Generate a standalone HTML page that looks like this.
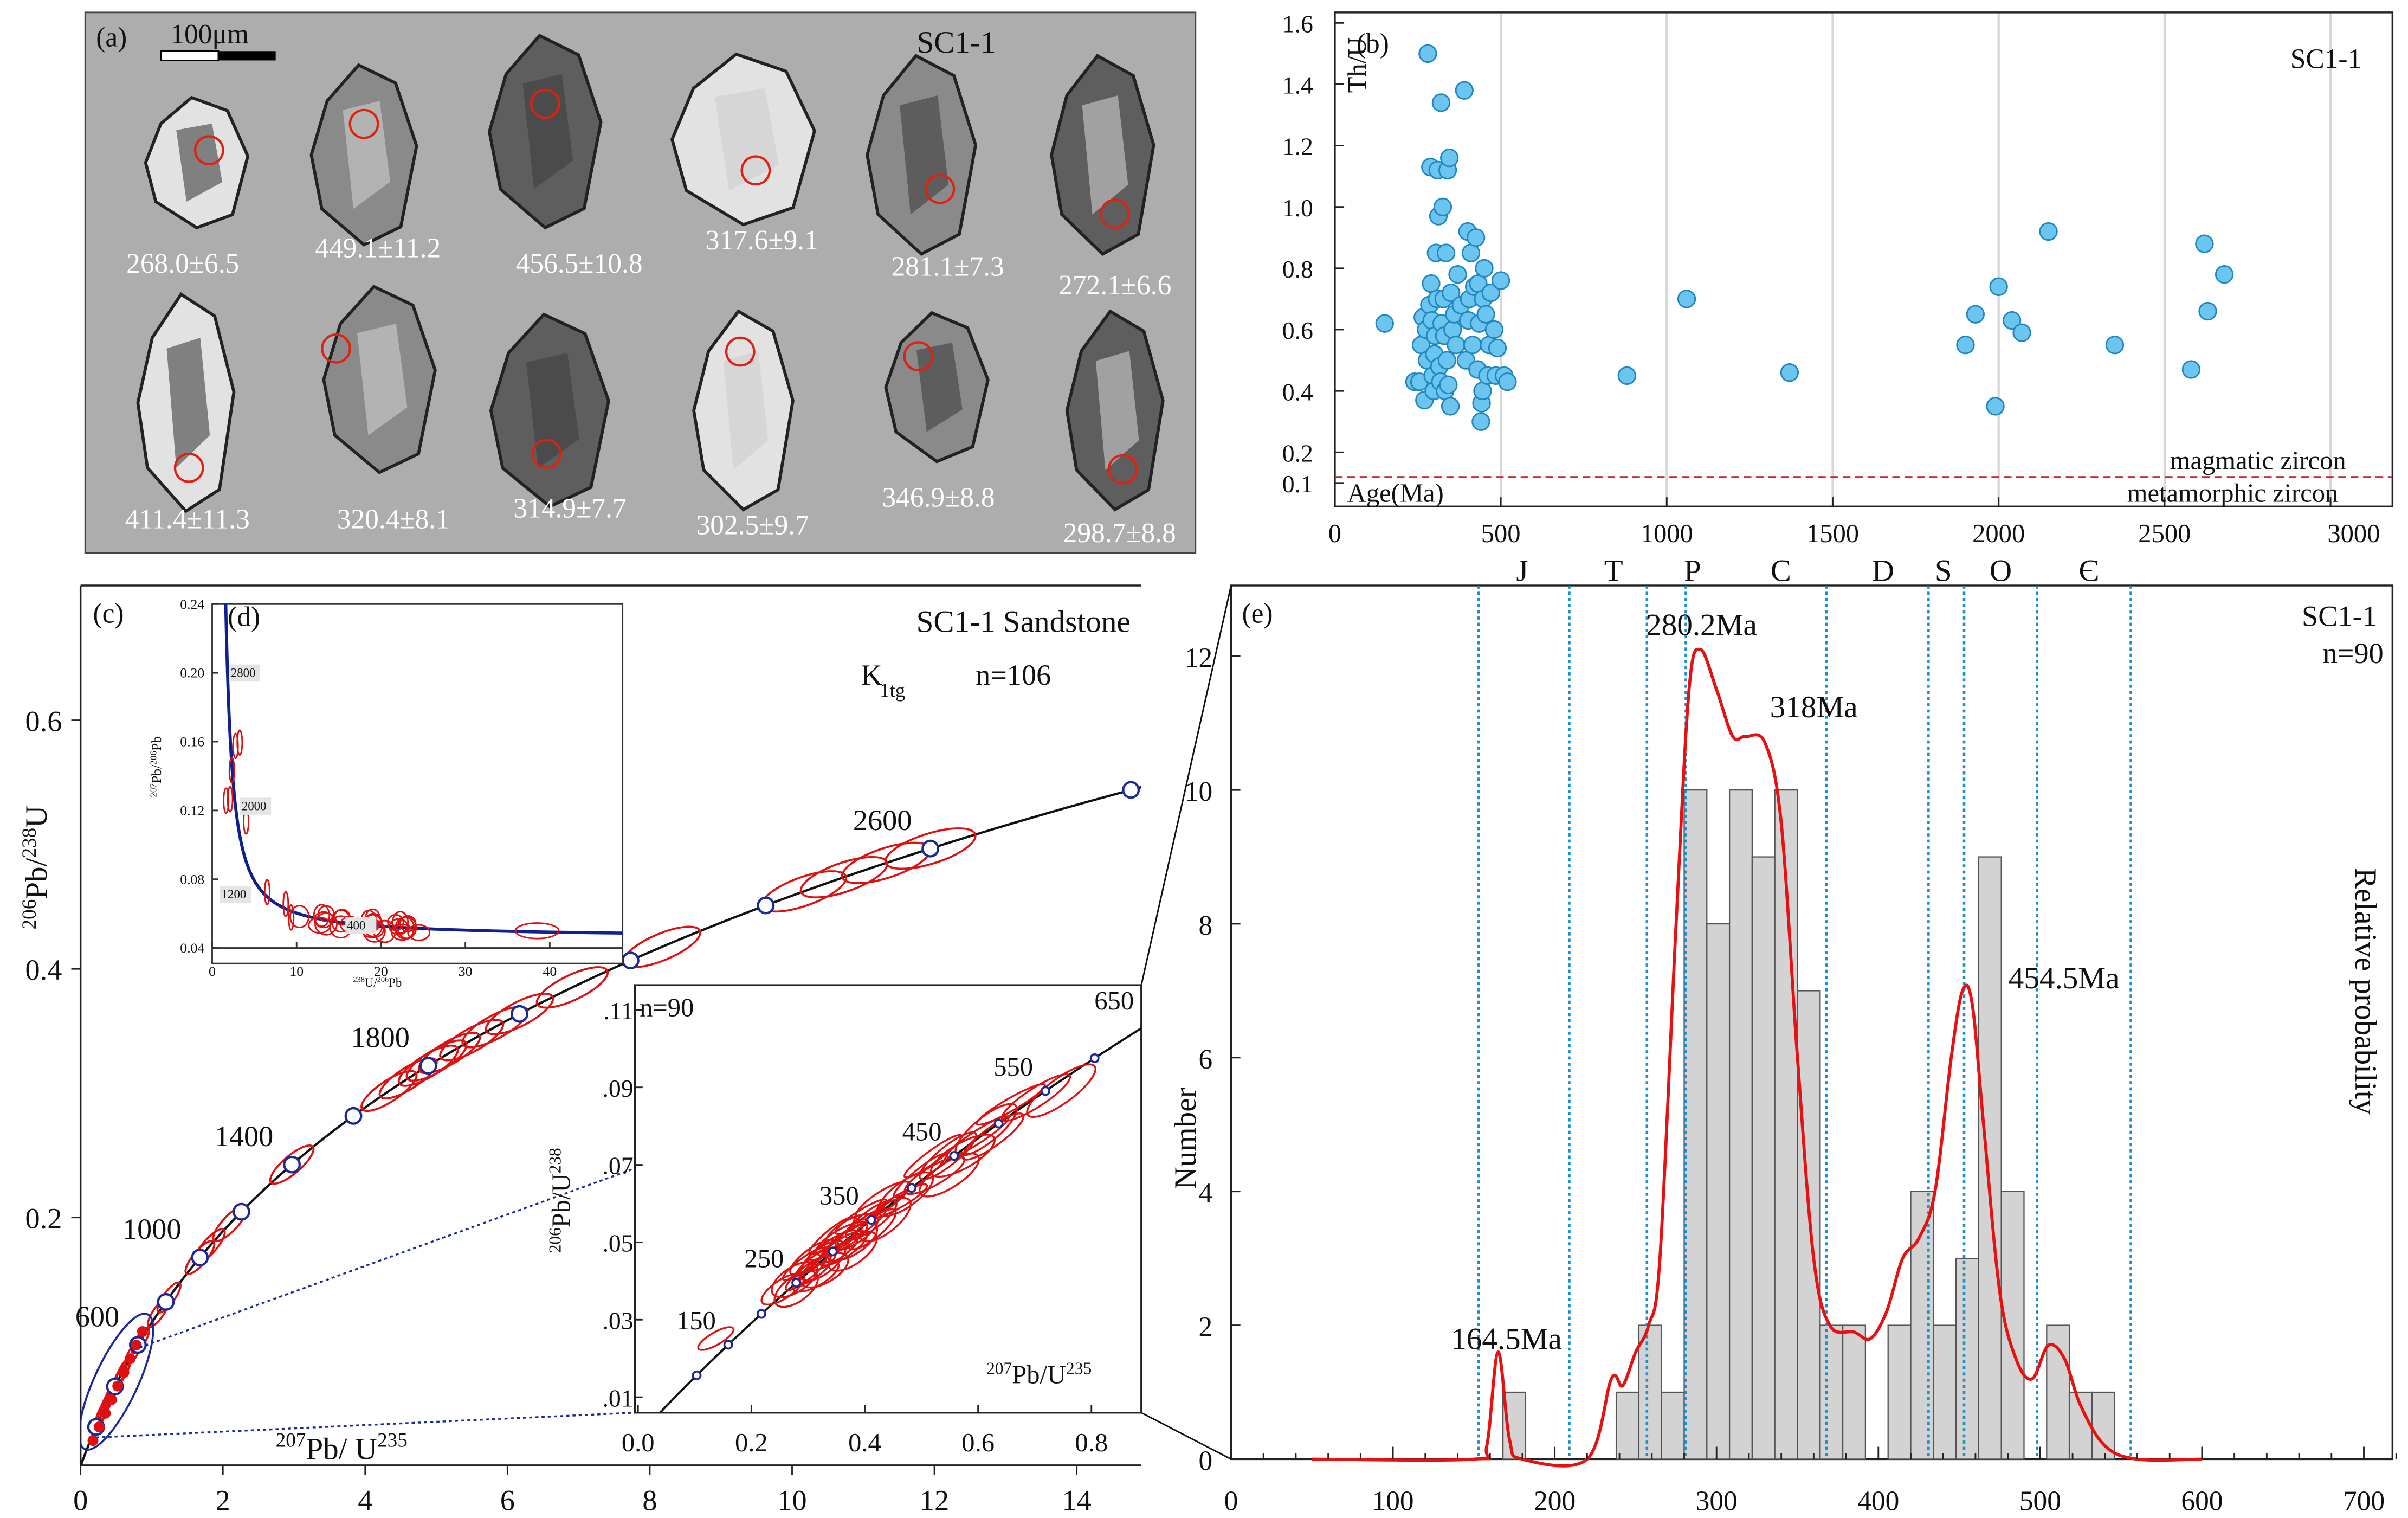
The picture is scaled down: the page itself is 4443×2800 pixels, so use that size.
<!DOCTYPE html>
<html><head><meta charset="utf-8">
<style>
html,body{margin:0;padding:0;background:#fff;}
svg{display:block;font-family:"Liberation Serif",serif;}
</style></head>
<body>
<svg id="fig" xmlns="http://www.w3.org/2000/svg" width="4443" height="2800" viewBox="0 0 1555 980">
<rect width="1555" height="980" fill="#fff"/>
</svg>
<script>
// ---------- DATA ----------
const scatterAges = [150,240,255,260,265,270,275,278,280,285,288,290,292,295,298,300,302,305,308,310,312,315,318,320,322,325,328,330,332,335,338,340,342,345,348,350,355,360,365,370,380,390,395,400,402,405,410,415,420,425,430,432,435,440,442,445,447,450,455,460,465,470,480,485,490,500,510,520,880,1060,1370,1900,1930,1990,2000,2040,2070,2150,2350,2580,2620,2630,2680];
const scatterThU = [0.62,0.43,0.43,0.55,0.64,0.37,0.6,0.5,1.5,0.68,1.13,0.75,0.63,0.45,0.4,0.52,0.58,0.85,0.7,1.12,0.97,0.48,0.43,1.34,0.62,1.0,0.7,0.58,0.4,0.85,0.5,1.12,0.42,1.16,0.35,0.72,0.6,0.65,0.55,0.78,0.68,1.38,0.5,0.92,0.63,0.7,0.85,0.55,0.74,0.9,0.47,0.75,0.62,0.3,0.36,0.4,0.7,0.8,0.65,0.45,0.55,0.72,0.6,0.45,0.54,0.76,0.45,0.43,0.45,0.7,0.46,0.55,0.65,0.35,0.74,0.63,0.59,0.92,0.55,0.47,0.88,0.66,0.78];
const bThTicks = [0.1,0.2,0.4,0.6,0.8,1.0,1.2,1.4,1.6];
const bAgeTicks = [0,500,1000,1500,2000,2500,3000];

const binStarts = [168,238,252,266,280,294,308,322,336,350,364,378,392,406,420,434,448,462,476,490,504,518,532];
const binCounts = [1,1,2,1,10,8,10,9,10,7,2,2,0,2,4,2,3,9,4,0,2,1,1];
const binWidth = 14;
const probAges = [50,150,158,165,172,180,220,235,242,250,258,265,275,283,290,300,310,318,330,340,350,360,370,385,395,405,415,425,435,445,452,458,465,475,485,495,505,515,525,540,560,600];
const probVals = [0,0,0.2,1.6,0.3,0,0,1.2,1.1,1.6,2,3,8,11.5,12.1,11.5,10.8,10.8,10.7,9.5,6,3,2,1.9,1.8,2.2,3,3.3,4,6,7,6.8,5,2.5,1.5,1.2,1.7,1.5,0.8,0.2,0,0];
const periodBounds = [153,209,257,281,368,431,453,498,556];
const eAgeTicks = [0,100,200,300,400,500,600,700];
const eNumTicks = [0,2,4,6,8,10,12];

const concAges = [260,270,280,300,320,340,360,420,450,480,560,620,750,820,1000,1050,1150,1400,1700,1750,1800,1820,1850,1900,1950,2000,2100,2250,2450,2500,2550,2600];
const concMarkers = [200,400,600,800,1000,1200,1400,1600,1800,2000,2200,2400,2600,2800];
const concLabels = [600,1000,1400,1800,2200,2600];
const cXTicks = [0,2,4,6,8,10,12,14];
const cYTicks = [0.2,0.4,0.6];

const insetAges = [150,240,250,255,260,265,270,275,280,285,290,295,300,305,310,315,320,325,330,335,340,345,350,360,370,380,400,410,420,430,440,450,460,470,480,500,520,540,560];
const insetMarkers = [100,150,200,250,300,350,400,450,500,550,600,650,700];
const insetLabels = [150,250,350,450,550,650];
const iXTicks = [0.0,0.2,0.4,0.6,0.8];
const iYTicks = [0.01,0.03,0.05,0.07,0.09,0.11];

const twAges = [260,270,280,290,300,310,320,330,340,350,360,300,290,280,270,320,330,410,420,440,450,460,470,480,500,540,620,700,1000,1900,2000,2050,2300,2400,2450];
const dXTicks = [0,10,20,30,40];
const dYTicks = [0.04,0.08,0.12,0.16,0.20,0.24];

const grainLabels = ["268.0±6.5","449.1±11.2","456.5±10.8","317.6±9.1","281.1±7.3","272.1±6.6","411.4±11.3","320.4±8.1","314.9±7.7","302.5±9.7","346.9±8.8","298.7±8.8"];

// ---------- helpers ----------
const NS="http://www.w3.org/2000/svg";
const svg=document.getElementById('fig');
function mk(tag,attrs,parent){const e=document.createElementNS(NS,tag);for(const k in attrs)e.setAttribute(k,attrs[k]);(parent||svg).appendChild(e);return e;}
function tx(x,y,s,size,anchor,parent,extra){const e=mk('text',Object.assign({x:x,y:y,'font-size':size,'text-anchor':anchor||'start',fill:'#111'},extra||{}),parent);e.textContent=s;return e;}
const L238=1.55125e-10,L235=9.8485e-10;
const c206=t=>Math.exp(L238*t*1e6)-1, c207=t=>Math.exp(L235*t*1e6)-1;
function smoothPath(pts){let d='M'+pts[0][0]+','+pts[0][1];for(let i=0;i<pts.length-1;i++){const p0=pts[i-1]||pts[i],p1=pts[i],p2=pts[i+1],p3=pts[i+2]||p2;const c1x=p1[0]+(p2[0]-p0[0])/6,c1y=p1[1]+(p2[1]-p0[1])/6,c2x=p2[0]-(p3[0]-p1[0])/6,c2y=p2[1]-(p3[1]-p1[1])/6;d+=` C${c1x},${c1y} ${c2x},${c2y} ${p2[0]},${p2[1]}`;}return d;}

// ---------- Panel A ----------
const gA=mk('g',{});


mk('rect',{x:55,y:8,width:717,height:349,fill:'#adadad',stroke:'#444','stroke-width':1},gA);
tx(62,30,'(a)',18,'start',gA);
tx(592,34,'SC1-1',20,'start',gA);
mk('rect',{x:104,y:33,width:37,height:6,fill:'#fff',stroke:'#000','stroke-width':1},gA);
mk('rect',{x:141,y:33,width:37,height:6,fill:'#000'},gA);
tx(110,28,'100μm',18,'start',gA);
const gc=[[127,105],[235,100],[352,85],[480,90],[595,100],[712,100],[120,260],[245,245],[355,265],[480,265],[605,250],[720,265]];
const gl=[[118,176],[244,166],[374,176],[492,161],[612,178],[720,190],[121,341],[254,341],[368,334],[486,345],[606,327],[723,350]];
const sizes=[[33,42],[34,58],[36,62],[46,55],[35,64],[33,64],[31,70],[36,60],[38,62],[32,64],[33,48],[31,64]];
const circ=[[8,-8],[0,-20],[0,-18],[8,20],[12,22],[8,38],[2,42],[-28,-20],[-2,28],[-2,-38],[-12,-20],[5,38]];
gc.forEach((c,i)=>{
  const [w,h]=sizes[i];
  const pts=[[-w*0.7,-h*0.6],[-w*0.1,-h],[w*0.6,-h*0.8],[w,-h*0.1],[w*0.7,h*0.8],[0,h],[-w*0.8,h*0.6],[-w,0]].map(p=>(c[0]+p[0])+','+(c[1]+p[1])).join(' ');
  const g=mk('polygon',{points:pts,fill:i%3==0?'#e2e2e2':(i%3==1?'#8a8a8a':'#5e5e5e'),stroke:'#222','stroke-width':2},gA);
  
  
  mk('polygon',{points:[[-w*0.4,-h*0.5],[w*0.3,-h*0.6],[w*0.5,h*0.3],[-w*0.2,h*0.6]].map(p=>(c[0]+p[0])+','+(c[1]+p[1])).join(' '),fill:i%2?'#cfcfcf':'#3f3f3f',opacity:0.6},gA);
  mk('circle',{cx:c[0]+circ[i][0],cy:c[1]+circ[i][1],r:9,fill:'none',stroke:'#e02010','stroke-width':1.5},gA);
  const t=tx(gl[i][0],gl[i][1],grainLabels[i],18,'middle',gA,{fill:'#fff'});
  
  
});

// ---------- Panel B ----------
const gB=mk('g',{});


const bx=a=>862+a*(1505-862)/3000, by=v=>292-(v-0.2)*198;
bAgeTicks.slice(1).forEach(a=>mk('line',{x1:bx(a),x2:bx(a),y1:8,y2:327,stroke:'#d8d8d8','stroke-width':1.5},gB));
mk('rect',{x:862,y:8,width:683,height:319,fill:'none',stroke:'#222','stroke-width':1.2},gB);
mk('line',{x1:862,x2:1545,y1:308,y2:308,stroke:'#d02020','stroke-width':1.2,'stroke-dasharray':'5,3'},gB);
bThTicks.forEach(v=>{mk('line',{x1:862,x2:868,y1:by(v),y2:by(v),stroke:'#222'},gB);tx(848,by(v)+6,v.toFixed(1),16,'end',gB);});
bAgeTicks.forEach(a=>{mk('line',{x1:bx(a),x2:bx(a),y1:327,y2:321,stroke:'#222'},gB);tx(a==3000?1520:bx(a),350,String(a),17,'middle',gB);});
tx(876,34,'(b)',18,'start',gB);
tx(1525,44,'SC1-1',18,'end',gB);
tx(1515,303,'magmatic zircon',17,'end',gB);
tx(1510,324,'metamorphic zircon',17,'end',gB);
tx(870,324,'Age(Ma)',17,'start',gB);
tx(0,0,'Th/U',17,'middle',gB,{transform:'translate(882,42) rotate(-90)'});
scatterAges.forEach((a,i)=>{
  const p=mk('circle',{cx:bx(a),cy:by(scatterThU[i]),r:5.5,fill:'#6cc5ee',stroke:'#1f86c0','stroke-width':1},gB);
  
  
});

// ---------- Panel E ----------
const gE=mk('g',{});


const ex=a=>795+a*1.045, ey=v=>942-v*43.2;
mk('rect',{x:795,y:378,width:750,height:564,fill:'none',stroke:'#222','stroke-width':1.2},gE);
binStarts.forEach((s,i)=>{ if(!binCounts[i])return;
  const r=mk('rect',{x:ex(s),y:ey(binCounts[i]),width:binWidth*1.045,height:binCounts[i]*43.2,fill:'#d3d3d3',stroke:'#555','stroke-width':0.8},gE);
  
  
});
periodBounds.forEach(a=>mk('line',{x1:ex(a),x2:ex(a),y1:378,y2:942,stroke:'#1a8fd0','stroke-width':1.6,'stroke-dasharray':'2,2'},gE));
const pc=mk('path',{d:smoothPath(probAges.map((a,i)=>[ex(a),ey(probVals[i])])),fill:'none',stroke:'#e81010','stroke-width':2,'stroke-linejoin':'round'},gE);


eNumTicks.forEach(v=>{mk('line',{x1:795,x2:801,y1:ey(v),y2:ey(v),stroke:'#222'},gE);tx(783,ey(v)+7,String(v),18,'end',gE);});
for(let a=0;a<=720;a+=20){mk('line',{x1:ex(a),x2:ex(a),y1:942,y2:a%100==0?934:938,stroke:'#222'},gE);}
eAgeTicks.forEach(a=>tx(ex(a),975,String(a),18,'middle',gE));
tx(802,402,'(e)',18,'start',gE);
tx(1535,404,'SC1-1',19,'end',gE);tx(1500,428,'n=90',19,'start',gE);
tx(1063,410,'280.2Ma',20,'start',gE);tx(1143,463,'318Ma',20,'start',gE);
tx(1297,638,'454.5Ma',20,'start',gE);tx(937,871,'164.5Ma',20,'start',gE);
tx(0,0,'Number',20,'middle',gE,{transform:'translate(772,735) rotate(-90)'});
tx(0,0,'Relative probability',20,'middle',gE,{transform:'translate(1521,640) rotate(90)'});
[['J',983],['T',1042],['P',1093],['C',1150],['D',1216],['S',1255],['O',1292],['Є',1349]].forEach(p=>tx(p[1],375,p[0],20,'middle',gE));

// ---------- Panel C ----------
const gC=mk('g',{});


const cx=x=>52+x*45.95, cy=y=>946.5-y*802.5;
mk('clipPath',{id:'cclip'}).appendChild(document.createElementNS(NS,'rect'));
const ccr=svg.querySelector('#cclip rect');ccr.setAttribute('x',52);ccr.setAttribute('y',378);ccr.setAttribute('width',685);ccr.setAttribute('height',568);
mk('line',{x1:52,x2:737,y1:378,y2:378,stroke:'#222','stroke-width':1.2},gC);
mk('line',{x1:52,x2:52,y1:378,y2:946,stroke:'#222','stroke-width':1.2},gC);
mk('line',{x1:52,x2:737,y1:946,y2:946,stroke:'#222','stroke-width':1.2},gC);
const cg=mk('g',{'clip-path':'url(#cclip)'},gC);
let cp=[];for(let t=0;t<=2900;t+=20)cp.push(cx(c207(t))+','+cy(c206(t)));
mk('polyline',{points:cp.join(' '),fill:'none',stroke:'#111','stroke-width':1.5},cg);
concAges.forEach(t=>{
  const x=cx(c207(t)),y=cy(c206(t));
  const x2=cx(c207(t+10)),y2=cy(c206(t+10));
  const ang=Math.atan2(y2-y,x2-x)*180/Math.PI;
  const rx=3+t/95, ry=Math.max(2.5,rx*0.32);
  const e=mk('ellipse',{cx:x,cy:y,rx:rx,ry:ry,transform:`rotate(${ang} ${x} ${y})`,fill:'none',stroke:'#e01010','stroke-width':1.3},cg);
  
  
});
concMarkers.forEach(t=>mk('circle',{cx:cx(c207(t)),cy:cy(c206(t)),r:5,fill:'#fff',stroke:'#1a2a9a','stroke-width':1.5},cg));
mk('ellipse',{cx:75,cy:892,rx:14,ry:48,transform:'rotate(25 75 892)',fill:'none',stroke:'#1a2a9a','stroke-width':1.3},cg);
for(let x=60;x<95;x+=4)mk('circle',{cx:x,cy:930-(x-60)*2.2,r:3.5,fill:'#e01010'},cg);
mk('line',{x1:90,y1:870,x2:737,y2:636,stroke:'#1a2a9a','stroke-width':1.2,'stroke-dasharray':'2,2'},gC);
mk('line',{x1:62,y1:928,x2:410,y2:912,stroke:'#1a2a9a','stroke-width':1.2,'stroke-dasharray':'2,2'},gC);
concLabels.forEach(t=>{const x=cx(c207(t)),y=cy(c206(t));tx(x-12,y-12,String(t),19,'end',gC);});
cYTicks.forEach(v=>{mk('line',{x1:46,x2:52,y1:cy(v),y2:cy(v),stroke:'#222'},gC);tx(40,cy(v)+7,v.toFixed(1),19,'end',gC);});
cXTicks.forEach(v=>{mk('line',{x1:cx(v),x2:cx(v),y1:946,y2:952,stroke:'#222'},gC);tx(cx(v),975,String(v),19,'middle',gC);});
tx(60,402,'(c)',18,'start',gC);
tx(730,408,'SC1-1 Sandstone',20,'end',gC);
tx(556,442,'K',19,'start',gC);
tx(568,450,'1tg',13,'start',gC);tx(630,442,'n=106',19,'start',gC);
const yl=mk('text',{transform:'translate(30,560) rotate(-90)','font-size':20,'text-anchor':'middle',fill:'#111'},gC);
yl.innerHTML='<tspan font-size="13" dy="-7">206</tspan><tspan dy="7">Pb/</tspan><tspan font-size="13" dy="-7">238</tspan><tspan dy="7">U</tspan>';
const xl=mk('text',{x:178,y:942,'font-size':20,fill:'#111'},gC);
xl.innerHTML='<tspan font-size="13" dy="-8">207</tspan><tspan dy="8">Pb/ U</tspan><tspan font-size="13" dy="-8">235</tspan>';
mk('line',{x1:737,y1:636,x2:795,y2:378,stroke:'#111','stroke-width':1},svg);
mk('line',{x1:737,y1:912,x2:795,y2:942,stroke:'#111','stroke-width':1},svg);

// ---------- Inset (lower) ----------
const gI=mk('g',{});


const ix=x=>412+x*366, iy=y=>902-(y-0.01)*2500;
mk('rect',{x:410,y:636,width:327,height:276,fill:'#fff',stroke:'#222','stroke-width':1.2},gI);
mk('clipPath',{id:'iclip'}).appendChild(document.createElementNS(NS,'rect'));
const icr=svg.querySelector('#iclip rect');icr.setAttribute('x',410);icr.setAttribute('y',636);icr.setAttribute('width',327);icr.setAttribute('height',276);
const ig=mk('g',{'clip-path':'url(#iclip)'},gI);
let ip=[];for(let t=0;t<=760;t+=10)ip.push(ix(c207(t))+','+iy(c206(t)));
mk('polyline',{points:ip.join(' '),fill:'none',stroke:'#111','stroke-width':1.4},ig);
insetAges.forEach((t,i)=>{
  const x=ix(c207(t))+((i%5)-2)*4,y=iy(c206(t))+((i%3)-1)*4;
  const ang=-30-(i%4)*3, rx=8+t/30, ry=4+(i%3)*2;
  const e=mk('ellipse',{cx:x,cy:y,rx:rx,ry:ry,transform:`rotate(${ang} ${x} ${y})`,fill:'none',stroke:'#e01010','stroke-width':1.2},ig);
  
  
});
insetMarkers.forEach(t=>mk('circle',{cx:ix(c207(t)),cy:iy(c206(t)),r:2.5,fill:'#fff',stroke:'#1a2a9a','stroke-width':1.3},ig));
insetLabels.forEach(t=>tx(ix(c207(t))-8,iy(c206(t))-10,String(t),17,'end',gI));
iXTicks.forEach(v=>{mk('line',{x1:ix(v),x2:ix(v),y1:912,y2:907,stroke:'#222'},gI);tx(ix(v),937,v.toFixed(1),17,'middle',gI);});
iYTicks.forEach(v=>{mk('line',{x1:410,x2:415,y1:iy(v),y2:iy(v),stroke:'#222'},gI);tx(409,iy(v)+6,v.toFixed(2).replace(/^0/,''),16,'end',gI);});
tx(413,656,'n=90',17,'start',gI);
const il=mk('text',{x:637,y:893,'font-size':17,fill:'#111'},gI);
il.innerHTML='<tspan font-size="11" dy="-6">207</tspan><tspan dy="6">Pb/U</tspan><tspan font-size="11" dy="-6">235</tspan>';
const iyl=mk('text',{transform:'translate(368,775) rotate(-90)','font-size':17,'text-anchor':'middle',fill:'#111'},gI);
iyl.innerHTML='<tspan font-size="11" dy="-6">206</tspan><tspan dy="6">Pb/U</tspan><tspan font-size="11" dy="-6">238</tspan>';

// ---------- Inset D (Tera-Wasserburg) ----------
const gD=mk('g',{});


const dx=x=>137+x*5.45, dy=y=>612-(y-0.04)*1110;
mk('rect',{x:137,y:390,width:265,height:232,fill:'#fff',stroke:'#333','stroke-width':1},gD);
mk('clipPath',{id:'dclip'}).appendChild(document.createElementNS(NS,'rect'));
const dcr=svg.querySelector('#dclip rect');dcr.setAttribute('x',137);dcr.setAttribute('y',390);dcr.setAttribute('width',265);dcr.setAttribute('height',222);
const dg=mk('g',{'clip-path':'url(#dclip)'},gD);
const twx=t=>1/c206(t), twy=t=>c207(t)/c206(t)/137.88;
let dp=[];for(let t=3300;t>=130;t-=(t>600?40:10))dp.push(dx(twx(t))+','+dy(twy(t)));
mk('polyline',{points:dp.join(' '),fill:'none',stroke:'#102090','stroke-width':2},dg);
mk('line',{x1:dx(twx(130)),y1:dy(twy(130)),x2:402,y2:dy(0.0505),stroke:'#102090','stroke-width':2},dg);
twAges.forEach((t,i)=>{
  const x=dx(twx(t))+((i%5)-2)*3,y=dy(twy(t))+((i%3)-1)*3;
  const old=t>600;
  const e=mk('ellipse',{cx:x,cy:y,rx:old?1.6:5+(i%3),ry:old?8:5+(i%2)*2,fill:'none',stroke:'#e01010','stroke-width':1},dg);
  
  
});
mk('ellipse',{cx:dx(38.5),cy:dy(0.05),rx:14,ry:5,fill:'none',stroke:'#e01010','stroke-width':1},dg);
dXTicks.forEach(v=>{mk('line',{x1:dx(v),x2:dx(v),y1:612,y2:608,stroke:'#333'},gD);tx(dx(v),630,String(v),9,'middle',gD);});
dYTicks.forEach(v=>{mk('line',{x1:137,x2:141,y1:dy(v),y2:dy(v),stroke:'#333'},gD);tx(132,dy(v)+3,v.toFixed(2),9,'end',gD);});
mk('line',{x1:137,x2:402,y1:612,y2:612,stroke:'#333'},gD);
tx(147,404,'(d)',18,'start',gD);
[['2800',149,437],['2000',156,523],['1200',143,580],['400',224,600]].forEach(p=>{mk('rect',{x:p[1]-1,y:p[2]-8,width:20,height:11,fill:'#e4e4e4'},gD);tx(p[1],p[2],p[0],8,'start',gD);});
const dyl=mk('text',{transform:'translate(104,495) rotate(-90)','font-size':9,'text-anchor':'middle',fill:'#111'},gD);
dyl.innerHTML='<tspan font-size="6" dy="-3">207</tspan><tspan dy="3">Pb/</tspan><tspan font-size="6" dy="-3">206</tspan><tspan dy="3">Pb</tspan>';
const dxl=mk('text',{x:228,y:637,'font-size':8,fill:'#111'},gD);
dxl.innerHTML='<tspan font-size="5" dy="-3">238</tspan><tspan dy="3">U/</tspan><tspan font-size="5" dy="-3">206</tspan><tspan dy="3">Pb</tspan>';
</script>
</body></html>
